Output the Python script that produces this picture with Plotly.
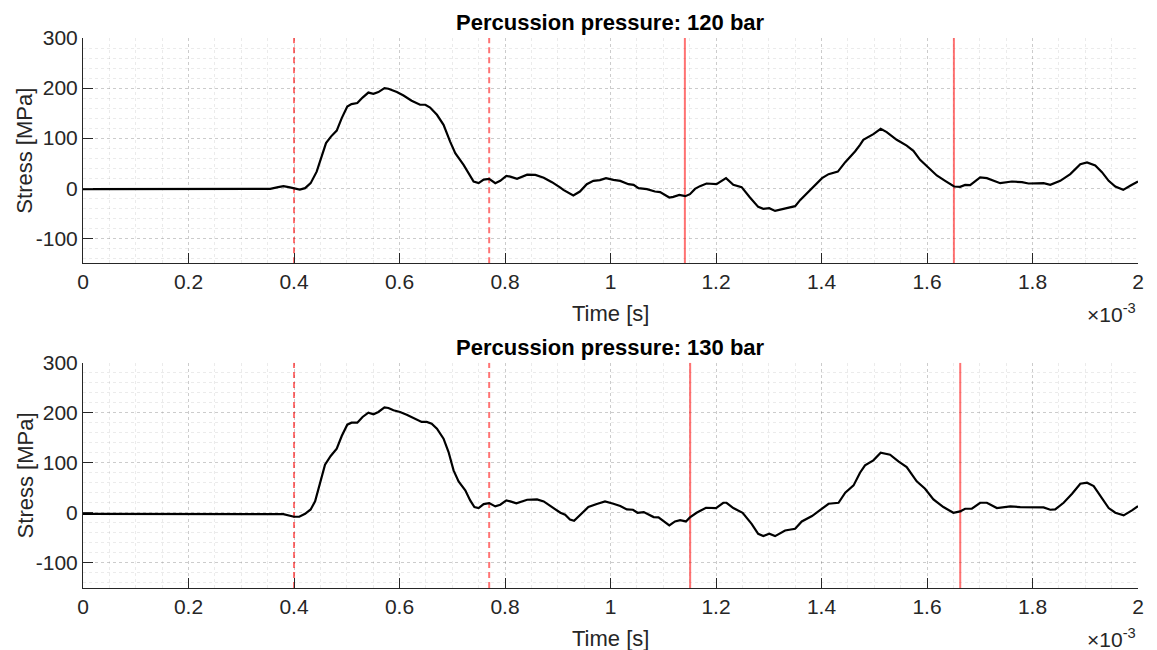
import plotly.graph_objects as go

# ---------------- data (time in units of 1e-3 s, stress in MPa) ----------------
t120 = [0, 0.34, 0.355, 0.37, 0.38, 0.39, 0.4, 0.411, 0.421, 0.4316, 0.443, 0.4525, 0.4607, 0.470, 0.481,
        0.4905, 0.501, 0.509, 0.520, 0.530, 0.541, 0.5506, 0.560, 0.5715, 0.579, 0.595, 0.6076, 0.623,
        0.639, 0.649, 0.658, 0.671, 0.6835, 0.696, 0.7057, 0.7215, 0.734, 0.7405, 0.750, 0.7595, 0.770,
        0.7816, 0.791, 0.8025, 0.810, 0.8228, 0.842, 0.8576, 0.8734, 0.889, 0.905, 0.9106, 0.9295, 0.942,
        0.955, 0.9675, 0.980, 0.9915, 1.0055, 1.0185, 1.034, 1.0438, 1.053, 1.069, 1.0843, 1.094, 1.1115,
        1.119, 1.1305, 1.1418, 1.1506, 1.1602, 1.1696, 1.182, 1.201, 1.219, 1.2328, 1.2486, 1.2644, 1.28,
        1.2897, 1.301, 1.312, 1.331, 1.35, 1.3598, 1.382, 1.401, 1.4134, 1.431, 1.445, 1.457, 1.4635,
        1.473, 1.4793, 1.4983, 1.5122, 1.5236, 1.5426, 1.5615, 1.5742, 1.5869, 1.6027, 1.6185, 1.6344,
        1.6514, 1.6628, 1.6723, 1.6818, 1.6913, 1.7008, 1.7135, 1.726, 1.7388, 1.761, 1.780, 1.7925,
        1.821, 1.8337, 1.8526, 1.8716, 1.8906, 1.9033, 1.919, 1.9317, 1.9444, 1.957, 1.972, 1.986, 2.0]
s120 = [-2, -2, -1.5, 2, 4, 2, -1, -3, 0, 10, 33, 63, 90, 103, 115,
        140, 163, 168, 170, 181, 191, 188.6, 192, 200, 198.6, 192, 185, 174.6,
        166.6, 166.6, 161, 146.6, 126.6, 93, 70, 46.6, 23, 13, 10, 17, 18.6,
        10, 14.6, 24.6, 23, 18.6, 27, 26.6, 21, 12, 1, -3.4, -14.7, -6.7,
        8, 14.6, 16, 20, 16.6, 14.6, 8, 6.6, 0, -2, -6.7, -8, -18.7,
        -17.4, -13.4, -16, -12, -1.4, 4, 9.3, 8, 20, 6.6, 2, -18.7, -37.4,
        -41.4, -40, -45.4, -40, -36, -23.4, 0, 20, 28, 33, 52, 64.6, 73.3,
        86.6, 96.6, 108, 118.6, 112, 96.6, 85, 74.6, 56.6, 41.3, 25.3, 14.6,
        3.3, 2.6, 6.6, 6, 13.3, 21.3, 20, 14.6, 10, 13.3, 12, 9.3,
        10, 6.6, 14.6, 28, 48, 51.3, 45.3, 32, 14.6, 3.3, -3.4, 5.3, 13.3]

t130 = [0, 0.3545, 0.3798, 0.400, 0.41, 0.421, 0.4316, 0.440, 0.449, 0.4588, 0.4696, 0.481, 0.4905,
        0.501, 0.509, 0.520, 0.530, 0.541, 0.5506, 0.560, 0.5715, 0.579, 0.5885, 0.601, 0.6137, 0.626,
        0.642, 0.6516, 0.661, 0.671, 0.6835, 0.693, 0.7025, 0.712, 0.7247, 0.734, 0.742, 0.750, 0.7595,
        0.770, 0.7816, 0.791, 0.8025, 0.810, 0.8216, 0.842, 0.8607, 0.8734, 0.889, 0.905, 0.914, 0.9232,
        0.931, 0.942, 0.958, 0.974, 0.9896, 1.0055, 1.0185, 1.031, 1.0425, 1.0513, 1.063, 1.0818, 1.091,
        1.1115, 1.1223, 1.132, 1.143, 1.1506, 1.1632, 1.181, 1.200, 1.2138, 1.22, 1.2328, 1.2505, 1.2675,
        1.28, 1.2897, 1.301, 1.312, 1.331, 1.35, 1.3626, 1.382, 1.401, 1.4134, 1.4323, 1.445, 1.4608,
        1.473, 1.4825, 1.4983, 1.5122, 1.53, 1.5458, 1.5615, 1.5805, 1.5963, 1.6122, 1.6311, 1.65,
        1.6628, 1.6723, 1.685, 1.7008, 1.7135, 1.7325, 1.758, 1.7767, 1.7957, 1.821, 1.8337, 1.843,
        1.859, 1.875, 1.8906, 1.9033, 1.916, 1.9317, 1.9444, 1.957, 1.9728, 1.9886, 2.0]
s130 = [-2, -1.7, -2.3, -7.7, -7.7, -1.7, 7, 23, 58, 96.3, 113.7, 128.3, 153.7,
        176.3, 180.3, 180.3, 191.7, 200.3, 197, 201.7, 211, 209.7, 205, 201.7, 196.3, 189.7,
        181.7, 181.7, 178.3, 168.3, 148.3, 121.7, 85, 63, 45, 25, 11.7, 9.7, 17.7,
        19.7, 13, 16.3, 25, 23, 19, 26.3, 27, 23, 11.7, 0.3, -3.7, -13,
        -15.7, -5, 11.7, 17.7, 23, 18.3, 13.7, 7, 6.3, 0.3, 1.7, -8.3, -9,
        -25, -17, -14.3, -17, -9, 0.3, 10.3, 9.7, 20.3, 20.3, 9.7, 0.3, -21.7,
        -41.7, -46.3, -41.7, -46.3, -35, -31.7, -17, -6.3, 8.3, 18.3, 20.3, 40.3, 55,
        80.3, 95, 105, 120.3, 116.3, 103, 91.7, 63, 48.3, 27, 11.7, 0.3,
        3, 8.3, 8.3, 20.3, 20.3, 9.7, 13, 11.7, 11, 11, 6.3, 7,
        20.3, 38.3, 58.3, 60.3, 53.7, 28.3, 9.7, 0.3, -5, 5, 13.7]

dashed_120 = [0.4, 0.77]
solid_120 = [1.141, 1.651]
dashed_130 = [0.4, 0.77]
solid_130 = [1.151, 1.663]

titles = ["Percussion pressure: 120 bar", "Percussion pressure: 130 bar"]
x_ticks = [0, 0.2, 0.4, 0.6, 0.8, 1.0, 1.2, 1.4, 1.6, 1.8, 2.0]
x_ticktext = ["0", "0.2", "0.4", "0.6", "0.8", "1", "1.2", "1.4", "1.6", "1.8", "2"]
y_ticks = [-100, 0, 100, 200, 300]
y_ticktext = ["-100", "0", "100", "200", "300"]
y_range = [-150, 300]

# ---------------- figure ----------------
W, H = 1157, 650
ML, MR, MT, MB = 83, 19, 38, 62
FONT = "Liberation Sans, Arial, sans-serif"
TXT = "#262626"
RED = "rgba(255,0,0,0.55)"

fig = go.Figure()

panels = [
    (t120, s120, dashed_120, solid_120, "x", "y"),
    (t130, s130, dashed_130, solid_130, "x2", "y2"),
]
for t, s, dsh, sol, xa, ya in panels:
    for xv in dsh:
        fig.add_trace(go.Scatter(x=[xv, xv], y=y_range, mode="lines", xaxis=xa, yaxis=ya,
                                 line=dict(color=RED, width=2, dash="6px,4px"),
                                 showlegend=False, hoverinfo="skip"))
    for xv in sol:
        fig.add_trace(go.Scatter(x=[xv, xv], y=y_range, mode="lines", xaxis=xa, yaxis=ya,
                                 line=dict(color=RED, width=2),
                                 showlegend=False, hoverinfo="skip"))
    fig.add_trace(go.Scatter(x=t, y=s, mode="lines", xaxis=xa, yaxis=ya,
                             line=dict(color="black", width=2.2), showlegend=False))

plot_h = H - MT - MB
gap_px = 362.5 - 263
panel_h = (plot_h - gap_px) / 2
top_dom = [1 - panel_h / plot_h, 1]
bot_dom = [0, panel_h / plot_h]

def xaxis_cfg(anchor):
    return dict(
        range=[0, 2], anchor=anchor, domain=[0, 1],
        tickmode="array", tickvals=x_ticks, ticktext=x_ticktext,
        ticks="inside", ticklen=10, tickcolor=TXT, tickwidth=1,
        showline=True, linecolor=TXT, linewidth=1, mirror=False,
        showgrid=True, gridcolor="rgba(0,0,0,0.13)", griddash="dot", gridwidth=1,
        minor=dict(dtick=0.05, tick0=0, showgrid=True, gridcolor="rgba(0,0,0,0.08)",
                   griddash="dot", gridwidth=1, ticks=""),
        tickfont=dict(family=FONT, size=21, color=TXT),
        zeroline=False, fixedrange=True,
    )

def yaxis_cfg(anchor, dom):
    return dict(
        range=y_range, anchor=anchor, domain=dom,
        tickmode="array", tickvals=y_ticks, ticktext=y_ticktext,
        ticks="inside", ticklen=10, tickcolor=TXT, tickwidth=1,
        showline=True, linecolor=TXT, linewidth=1, mirror=False,
        showgrid=True, gridcolor="rgba(0,0,0,0.13)", griddash="dot", gridwidth=1,
        minor=dict(dtick=20, tick0=0, showgrid=True, gridcolor="rgba(0,0,0,0.08)",
                   griddash="dot", gridwidth=1, ticks=""),
        tickfont=dict(family=FONT, size=21, color=TXT),
        zeroline=False, fixedrange=True,
    )

fig.update_layout(
    width=W, height=H,
    margin=dict(l=ML, r=MR, t=MT, b=MB),
    paper_bgcolor="white", plot_bgcolor="white",
    xaxis=xaxis_cfg("y"), yaxis=yaxis_cfg("x", top_dom),
    xaxis2=xaxis_cfg("y2"), yaxis2=yaxis_cfg("x2", bot_dom),
    showlegend=False,
)

annotations = []
for dom, title in [(top_dom, titles[0]), (bot_dom, titles[1])]:
    annotations.append(dict(text="<b>" + title + "</b>", xref="paper", yref="paper",
                            x=0.5, y=dom[1], xanchor="center", yanchor="bottom", yshift=1,
                            showarrow=False, font=dict(family=FONT, size=22, color="black")))
    annotations.append(dict(text="Time [s]", xref="paper", yref="paper",
                            x=0.5, y=dom[0], xanchor="center", yanchor="top", yshift=-36,
                            showarrow=False, font=dict(family=FONT, size=22, color=TXT)))
    annotations.append(dict(text="×10<sup>-3</sup>", xref="paper", yref="paper",
                            x=1, y=dom[0], xanchor="right", yanchor="top", yshift=-35,
                            showarrow=False, font=dict(family=FONT, size=21, color=TXT)))
    annotations.append(dict(text="Stress [MPa]", xref="paper", yref="paper",
                            x=0, y=(dom[0] + dom[1]) / 2, xanchor="center", yanchor="middle",
                            xshift=-58, textangle=-90,
                            showarrow=False, font=dict(family=FONT, size=22, color=TXT)))
fig.update_layout(annotations=annotations)

fig.write_html("out.html")
